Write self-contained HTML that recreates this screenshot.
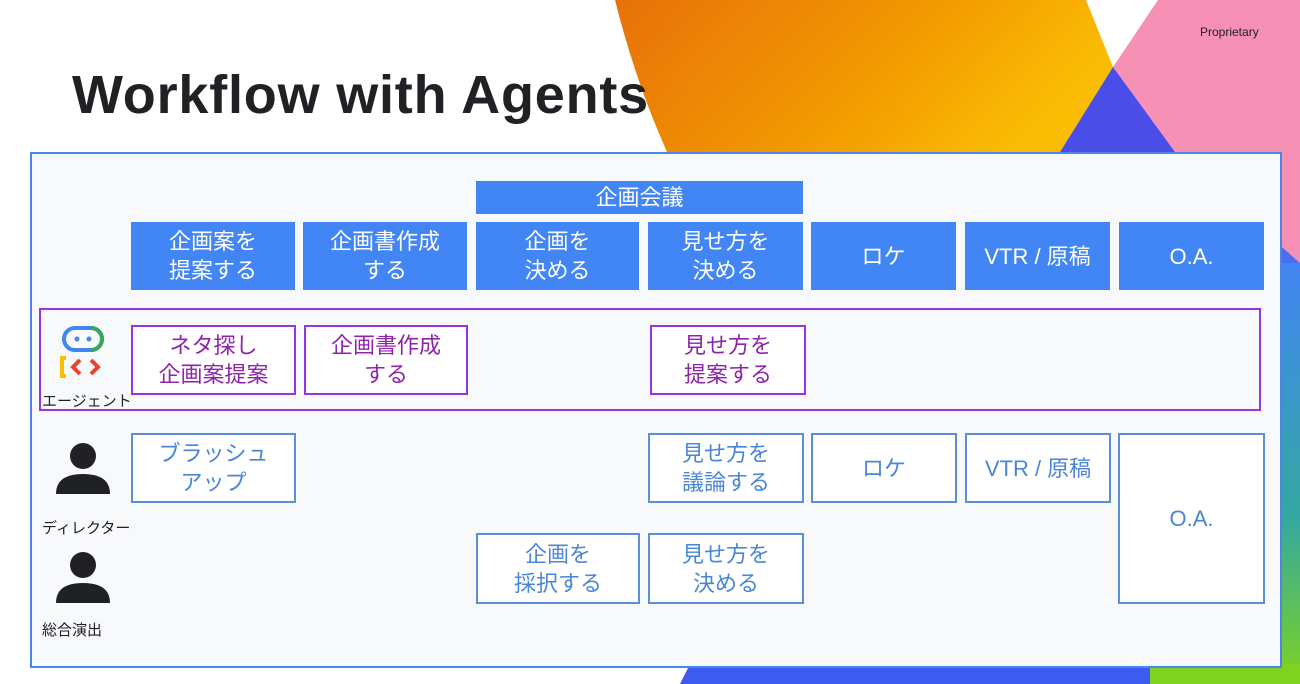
<!DOCTYPE html>
<html><head><meta charset="utf-8"><style>
*{margin:0;padding:0;box-sizing:border-box}
body{width:1300px;height:684px;position:relative;overflow:hidden;background:#fff;font-family:"Liberation Sans","Noto Sans CJK JP",sans-serif}
.b{position:absolute;display:flex;align-items:center;justify-content:center;text-align:center;font-size:22px;line-height:29px}
.h{background:#4285f4;color:#fff}
.a{border:2px solid #9334e6;color:#8e24aa;background:#fff}
.d{border:2px solid #5b8fd6;color:#4a86d8;background:#fff}
.lbl{position:absolute;font-size:15px;color:#202124}
</style></head><body>
<svg width="1300" height="684" style="position:absolute;left:0;top:0">
<defs>
<linearGradient id="og" x1="0" y1="0" x2="1" y2="0.3"><stop offset="0" stop-color="#e8710a"/><stop offset="0.6" stop-color="#f29900"/><stop offset="1" stop-color="#fbbc04"/></linearGradient>
<linearGradient id="gg" x1="0" y1="0" x2="0" y2="1"><stop offset="0" stop-color="#4285f4"/><stop offset="0.6" stop-color="#34a8a0"/><stop offset="1" stop-color="#7ed321"/></linearGradient>
</defs>
<path d="M1158 0 L1300 0 L1300 263 L1175 152 L1113 67 Z" fill="#f690b4"/>
<path d="M615 0 L1086 0 L1113 67 L1060 152 L667 152 Q635 80 615 0Z" fill="url(#og)"/>
<path d="M1113 67 L1060 152 L1175 152 Z" fill="#4a4de8"/>
<rect x="1270" y="263" width="30" height="421" fill="url(#gg)"/>
<path d="M1175 152 L1300 263 L1270 263 L1270 152Z" fill="#4a6ef0"/>
<path d="M690 664 L1300 664 L1300 684 L680 684Z" fill="#3d5af1"/>
<rect x="1150" y="664" width="150" height="20" fill="#7ed321"/>
</svg>
<div style="position:absolute;left:72px;top:64px;font-size:54px;font-weight:bold;color:#202124;letter-spacing:0.8px">Workflow with Agents</div>
<div style="position:absolute;left:1200px;top:25px;font-size:12px;color:#202124">Proprietary</div>
<div style="position:absolute;left:30px;top:152px;width:1252px;height:516px;border:2px solid #4a86e8;background:#f8f9fa"></div>
<div class="b h" style="left:476px;top:181px;width:327px;height:33px">企画会議</div>
<div class="b h" style="left:131px;top:222px;width:164px;height:68px">企画案を<br>提案する</div>
<div class="b h" style="left:303px;top:222px;width:164px;height:68px">企画書作成<br>する</div>
<div class="b h" style="left:476px;top:222px;width:163px;height:68px">企画を<br>決める</div>
<div class="b h" style="left:648px;top:222px;width:155px;height:68px">見せ方を<br>決める</div>
<div class="b h" style="left:811px;top:222px;width:145px;height:68px">ロケ</div>
<div class="b h" style="left:965px;top:222px;width:145px;height:68px">VTR / 原稿</div>
<div class="b h" style="left:1119px;top:222px;width:145px;height:68px">O.A.</div>
<div style="position:absolute;left:39px;top:308px;width:1222px;height:103px;border:2px solid #9334e6"></div>
<div class="b a" style="left:131px;top:325px;width:165px;height:70px">ネタ探し<br>企画案提案</div>
<div class="b a" style="left:304px;top:325px;width:164px;height:70px">企画書作成<br>する</div>
<div class="b a" style="left:650px;top:325px;width:156px;height:70px">見せ方を<br>提案する</div>
<svg width="50" height="54" style="position:absolute;left:58px;top:326px">
<path d="M17 2 H33 A11 11 0 0 1 33 24 H17 A11 11 0 0 1 17 2Z" fill="none" stroke="#4285f4" stroke-width="4"/>
<path d="M33 2 A11 11 0 0 1 33 24" fill="none" stroke="#34a853" stroke-width="4"/>
<circle cx="19" cy="13" r="2.5" fill="#4285f4"/><circle cx="31" cy="13" r="2.5" fill="#4285f4"/>
<path d="M8 32 H4 V50 H8" fill="none" stroke="#fbbc04" stroke-width="4"/>
<path d="M22 34 L15 41 L22 48" fill="none" stroke="#ea4335" stroke-width="4"/>
<path d="M33 34 L40 41 L33 48" fill="none" stroke="#ea4335" stroke-width="4"/>
</svg>
<div class="lbl" style="left:42px;top:390px">エージェント</div>
<svg width="60" height="56" style="position:absolute;left:55px;top:442px"><circle cx="28" cy="14" r="13" fill="#202124"/><path d="M1 52 Q1 32 28 32 Q55 32 55 52Z" fill="#202124"/></svg>
<div class="lbl" style="left:42px;top:517px">ディレクター</div>
<svg width="60" height="56" style="position:absolute;left:55px;top:551px"><circle cx="28" cy="14" r="13" fill="#202124"/><path d="M1 52 Q1 32 28 32 Q55 32 55 52Z" fill="#202124"/></svg>
<div class="lbl" style="left:42px;top:619px">総合演出</div>
<div class="b d" style="left:131px;top:433px;width:165px;height:70px">ブラッシュ<br>アップ</div>
<div class="b d" style="left:648px;top:433px;width:156px;height:70px">見せ方を<br>議論する</div>
<div class="b d" style="left:811px;top:433px;width:146px;height:70px">ロケ</div>
<div class="b d" style="left:965px;top:433px;width:146px;height:70px">VTR / 原稿</div>
<div class="b d" style="left:1118px;top:433px;width:147px;height:171px">O.A.</div>
<div class="b d" style="left:476px;top:533px;width:164px;height:71px">企画を<br>採択する</div>
<div class="b d" style="left:648px;top:533px;width:156px;height:71px">見せ方を<br>決める</div>
</body></html>
